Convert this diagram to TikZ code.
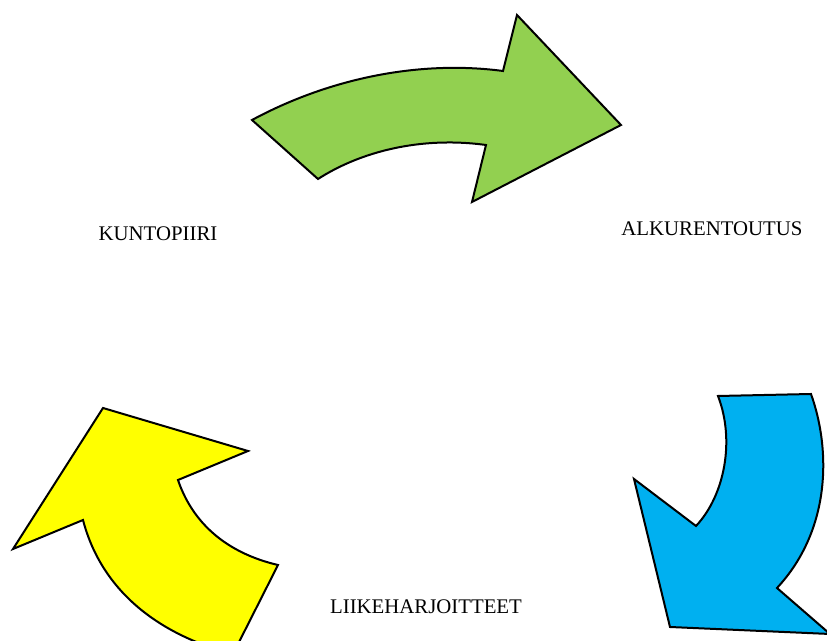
\documentclass[tikz,border=0pt]{standalone}
\usepackage{fontspec}
\setmainfont{Liberation Serif}
\usepackage{xcolor}
\usepackage{tikz}
\usetikzlibrary{positioning}

\definecolor{arrowgreen}{RGB}{146,208,80}
\definecolor{arrowblue}{RGB}{0,176,240}
\definecolor{arrowyellow}{RGB}{255,255,0}

\tikzset{
  bigarrow/.style={draw=black, line width=1pt, line join=miter},
  steplabel/.style={anchor=base, inner sep=0pt, font=\fontsize{10.4}{12}\selectfont}
}

\begin{document}
\begin{tikzpicture}[x=0.5pt, y=-0.5pt]
      \useasboundingbox (0, 0) rectangle (827, 641);
      \clip (0, 0) rectangle (827, 641);

      % green arrow, top
      \draw[bigarrow, fill=arrowgreen] (252, 120) .. controls (330, 78) and (420, 60) .. (503, 71)
        -- (517, 15) -- (621, 125) -- (472, 202) -- (486, 145)
        .. controls (420, 136) and (360, 152) .. (318, 179) -- cycle;

      % blue arrow, right
      \draw[bigarrow, fill=arrowblue] (718, 396) -- (811, 394)
        .. controls (831, 450) and (831, 530) .. (777, 588)
        -- (830, 634) -- (670, 627) -- (634, 479) -- (696, 526)
        .. controls (725, 495) and (735, 440) .. (718, 396) -- cycle;

      % yellow arrow, left
      \draw[bigarrow, fill=arrowyellow] (103, 408) -- (248, 451) -- (178, 480)
        .. controls (195, 530) and (235, 555) .. (278, 565)
        -- (234, 652) -- (225, 652)
        .. controls (150, 630) and (100, 585) .. (83, 520)
        -- (13, 549) -- cycle;

      \node[steplabel] (kuntopiiri) at (158, 241) {KUNTOPIIRI};
      \node[steplabel] (alkurentoutus) at (712, 236) {ALKURENTOUTUS};
      \node[steplabel] (liikeharjoitteet) at (426, 614) {LIIKEHARJOITTEET};
\end{tikzpicture}
\end{document}
